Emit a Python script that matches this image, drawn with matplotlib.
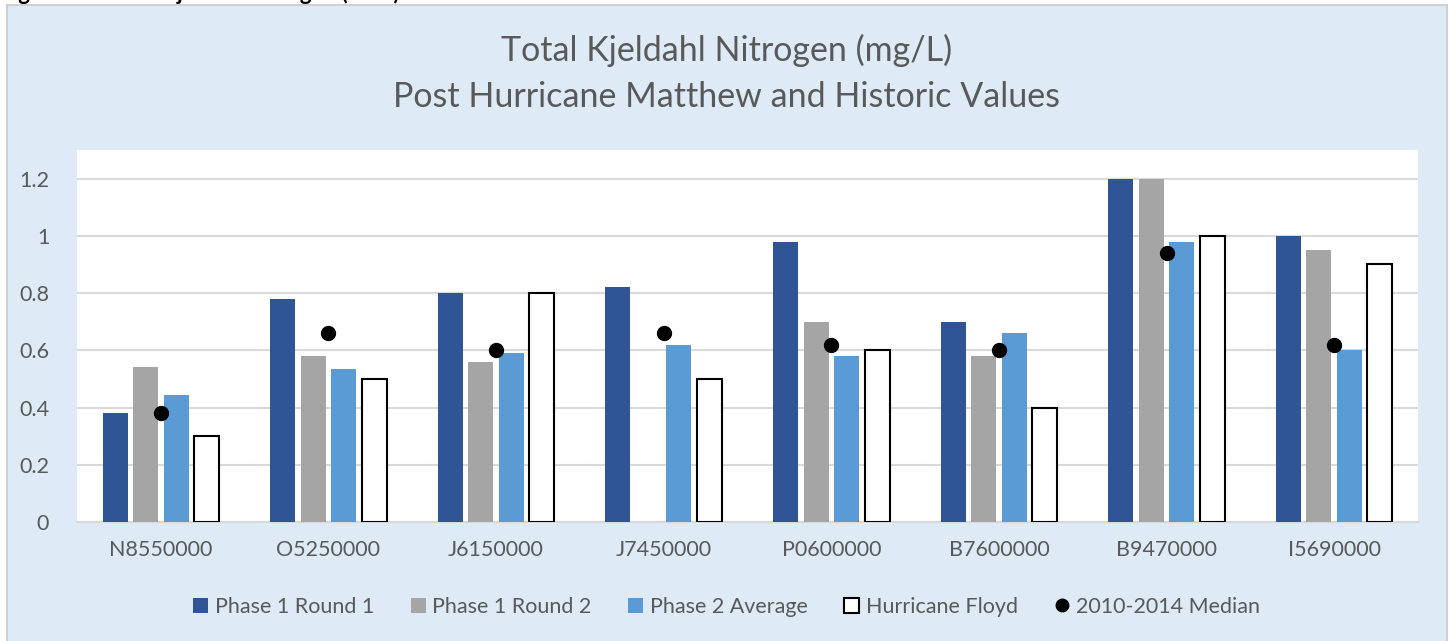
import numpy as np
import matplotlib.pyplot as plt
from matplotlib.patches import Rectangle, Patch
from matplotlib.lines import Line2D

plt.rcParams['font.family'] = ['Lato', 'DejaVu Sans']

sites = ['N8550000', 'O5250000', 'J6150000', 'J7450000',
         'P0600000', 'B7600000', 'B9470000', 'I5690000']
p1r1 = [0.38, 0.78, 0.80, 0.82, 0.98, 0.70, 1.20, 1.00]
p1r2 = [0.54, 0.58, 0.56, np.nan, 0.70, 0.58, 1.20, 0.95]
p2avg = [0.445, 0.535, 0.59, 0.62, 0.58, 0.66, 0.98, 0.60]
floyd = [0.30, 0.50, 0.80, 0.50, 0.60, 0.40, 1.00, 0.90]
median = [0.38, 0.66, 0.60, 0.66, 0.62, 0.60, 0.94, 0.62]

txt = '#595959'
grid = '#D9D9D9'

fig = plt.figure(figsize=(14.53, 6.41), dpi=100, facecolor='white')
fig.add_artist(Rectangle((7/1453, -0.02), 1440/1453, 0.02 + 636/641,
                         transform=fig.transFigure, facecolor='#DEEAF6',
                         edgecolor='#D0D0D0', lw=1.5, zorder=-10))
# caption of the source document, cut off by the crop
fig.text(0.0, 1.0, 'Figure 26: Total Kjeldahl Nitrogen (TKN)', fontsize=16,
         fontweight='bold', va='baseline', ha='left', color='black')

ax = fig.add_axes([77/1453, 1 - 522/641, 1341/1453, 372/641])
ax.set_facecolor('white')

x = np.arange(len(sites))
pitch = 0.182
w = 0.149
ax.bar(x - 1.5*pitch, p1r1, w, color='#2F5597', zorder=3)
ax.bar(x - 0.5*pitch, p1r2, w, color='#A5A5A5', zorder=3)
ax.bar(x + 0.5*pitch, p2avg, w, color='#5B9BD5', zorder=3)
ax.bar(x + 1.5*pitch, floyd, w, facecolor='white', edgecolor='black', lw=1.5, zorder=3)
ax.plot(x, median, 'o', color='black', ms=10, zorder=4, linestyle='none')

ax.set_xlim(-0.5, len(sites) - 0.5)
ax.set_ylim(0, 1.3)
ax.set_yticks([0, 0.2, 0.4, 0.6, 0.8, 1.0, 1.2])
ax.set_yticklabels(['0', '0.2', '0.4', '0.6', '0.8', '1', '1.2'])
ax.set_xticks(x)
ax.set_xticklabels(sites)
ax.tick_params(axis='both', length=0, labelsize=15.5, labelcolor=txt)
ax.tick_params(axis='y', pad=20)
ax.tick_params(axis='x', pad=13)
ax.yaxis.grid(True, color=grid, lw=1.5, zorder=0)
ax.set_axisbelow(True)
for s in ['top', 'right', 'left']:
    ax.spines[s].set_visible(False)
ax.spines['bottom'].set_color(grid)
ax.spines['bottom'].set_linewidth(1.5)

fig.text(0.5, 1 - 50/641, 'Total Kjeldahl Nitrogen (mg/L)', ha='center', va='center',
         fontsize=24.5, color=txt)
fig.text(0.5, 1 - 97/641, 'Post Hurricane Matthew and Historic Values', ha='center',
         va='center', fontsize=24.5, color=txt)

handles = [Patch(facecolor='#2F5597'), Patch(facecolor='#A5A5A5'),
           Patch(facecolor='#5B9BD5'), Patch(facecolor='white', edgecolor='black', lw=1.5),
           Line2D([], [], marker='o', color='black', ms=9, linestyle='none')]
labels = ['Phase 1 Round 1', 'Phase 1 Round 2', 'Phase 2 Average',
          'Hurricane Floyd', '2010-2014 Median']
leg = fig.legend(handles, labels, loc='center', bbox_to_anchor=(0.5, 1 - 607/641),
                 ncol=5, frameon=False, fontsize=15.5, handlelength=0.7,
                 handleheight=0.7, handletextpad=0.3, columnspacing=1.7)
for t in leg.get_texts():
    t.set_color(txt)

fig.savefig('out.png', dpi=100, facecolor=fig.get_facecolor())
